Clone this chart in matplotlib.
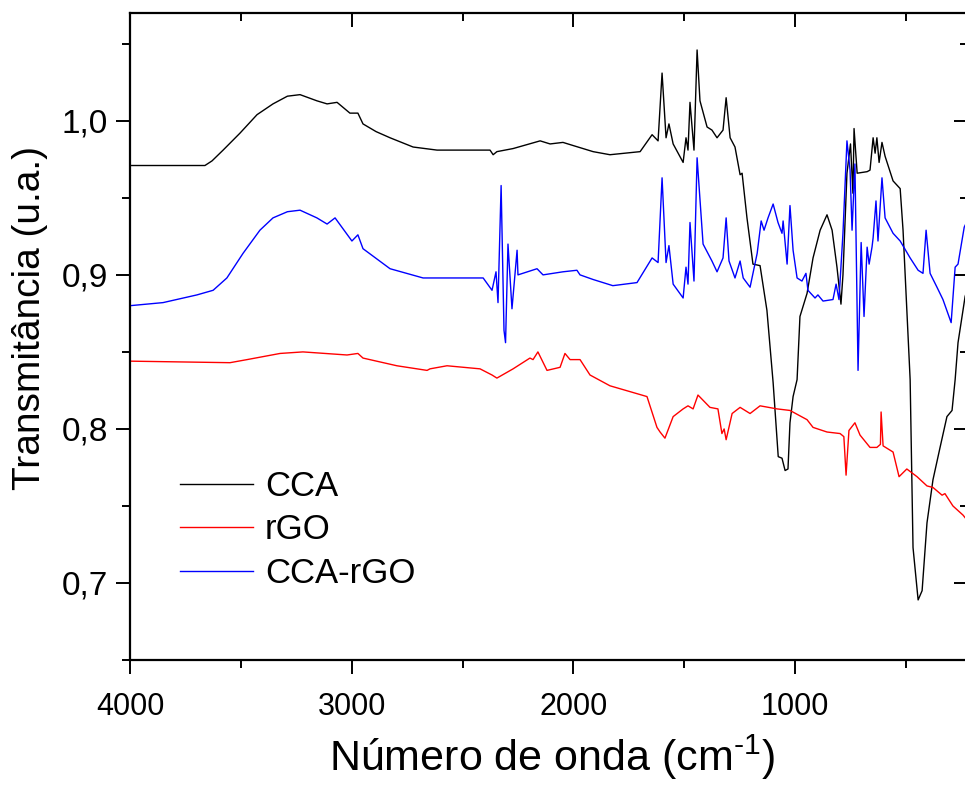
import numpy as np
import matplotlib
matplotlib.use('Agg')
import matplotlib.pyplot as plt
from matplotlib.ticker import MultipleLocator, FuncFormatter

# ---- data (wavenumber cm-1, transmittance) ----
cca_wn = [4000, 3662, 3630, 3580, 3504, 3427, 3355, 3290, 3233, 3157, 3111, 3066, 3008, 2972,
          2949, 2890, 2827, 2723, 2615, 2376, 2362, 2345, 2272, 2150, 2105, 2047, 2002, 1911,
          1835, 1699, 1645, 1618, 1600, 1582, 1569, 1550, 1505, 1492, 1483, 1474, 1456, 1442,
          1429, 1397, 1375, 1352, 1325, 1311, 1293, 1271, 1248, 1239, 1217, 1190, 1158,
          1127, 1099, 1076, 1059, 1045, 1032, 1023, 1009, 991, 978, 946, 919, 887, 856,
          833, 811, 793, 784, 766, 750, 739, 734, 720, 675, 662, 648, 639, 631, 621, 608,
          594, 558, 526, 513, 481, 468, 445, 427, 405, 378, 346, 315, 292, 278, 265, 233, 220]
cca_t = [0.971, 0.971, 0.974, 0.981, 0.992, 1.004, 1.011, 1.016, 1.017, 1.013, 1.011, 1.012,
         1.005, 1.005, 0.998, 0.993, 0.989, 0.983, 0.981, 0.981, 0.978, 0.980, 0.982, 0.987,
         0.985, 0.986, 0.984, 0.980, 0.978, 0.980, 0.991, 0.987, 1.031, 0.989, 0.998, 0.985,
         0.973, 0.989, 0.981, 1.012, 0.981, 1.046, 1.013, 0.996, 0.994, 0.989, 0.994, 1.015,
         0.989, 0.983, 0.965, 0.966, 0.937, 0.907, 0.906, 0.877, 0.830, 0.782, 0.781, 0.773,
         0.774, 0.804, 0.821, 0.832, 0.873, 0.888, 0.911, 0.929, 0.939, 0.929, 0.905, 0.881,
         0.900, 0.966, 0.985, 0.953, 0.995, 0.966, 0.967, 0.968, 0.989, 0.979, 0.989, 0.973,
         0.986, 0.977, 0.961, 0.956, 0.929, 0.832, 0.723, 0.689, 0.695, 0.739, 0.767, 0.788,
         0.808, 0.812, 0.832, 0.856, 0.886, 0.892]

rgo_wn = [4000, 3549, 3472, 3323, 3220, 3021, 2972, 2949, 2796, 2660, 2647, 2570, 2421,
          2367, 2345, 2272, 2196, 2182, 2160, 2119, 2060, 2038, 2015, 1970, 1925, 1835,
          1668, 1623, 1609, 1587, 1550, 1505, 1483, 1460, 1438, 1384, 1348, 1330, 1320,
          1311, 1284, 1248, 1203, 1158, 1081, 1023, 946, 919, 856, 797, 780, 770, 757,
          730, 707, 662, 631, 615, 612, 603, 558, 531, 496, 450, 405, 378, 337, 324, 288,
          242, 220]
rgo_t = [0.844, 0.843, 0.845, 0.849, 0.850, 0.848, 0.849, 0.846, 0.841, 0.838, 0.839, 0.841,
         0.839, 0.835, 0.833, 0.839, 0.846, 0.845, 0.850, 0.838, 0.840, 0.849, 0.845, 0.845,
         0.835, 0.828, 0.821, 0.801, 0.798, 0.794, 0.808, 0.813, 0.815, 0.813, 0.822, 0.814,
         0.813, 0.797, 0.800, 0.793, 0.810, 0.814, 0.810, 0.815, 0.813, 0.812, 0.806, 0.801,
         0.798, 0.797, 0.795, 0.770, 0.799, 0.804, 0.796, 0.788, 0.788, 0.790, 0.811, 0.789,
         0.785, 0.769, 0.774, 0.769, 0.763, 0.762, 0.757, 0.758, 0.750, 0.744, 0.740]

hyb_wn = [4000, 3851, 3698, 3625, 3563, 3490, 3414, 3355, 3290, 3233, 3157, 3111, 3075, 2999,
          2972, 2949, 2827, 2678, 2570, 2407, 2367, 2349, 2340, 2326, 2313, 2306, 2295,
          2277, 2254, 2250, 2164, 2137, 2047, 1984, 1970, 1911, 1822, 1713, 1645, 1618,
          1600, 1582, 1569, 1550, 1505, 1492, 1483, 1474, 1456, 1442, 1415, 1375, 1352,
          1325, 1311, 1298, 1271, 1248, 1234, 1203, 1171, 1153, 1140, 1122, 1099, 1077,
          1059, 1054, 1036, 1023, 1009, 991, 969, 951, 942, 910, 897, 874, 829, 815, 802,
          784, 766, 752, 743, 730, 716, 702, 689, 675, 666, 653, 648, 635, 626, 608, 594,
          558, 526, 481, 445, 423, 409, 391, 360, 333, 296, 278, 265, 237, 220]
hyb_t = [0.880, 0.882, 0.887, 0.890, 0.898, 0.914, 0.929, 0.937, 0.941, 0.942, 0.937, 0.933,
         0.937, 0.922, 0.926, 0.917, 0.904, 0.898, 0.898, 0.898, 0.890, 0.902, 0.882, 0.958,
         0.864, 0.856, 0.920, 0.878, 0.916, 0.900, 0.904, 0.900, 0.902, 0.903, 0.900, 0.897,
         0.893, 0.895, 0.911, 0.908, 0.963, 0.908, 0.919, 0.894, 0.885, 0.905, 0.894, 0.934,
         0.896, 0.976, 0.920, 0.909, 0.902, 0.911, 0.937, 0.909, 0.898, 0.909, 0.898, 0.892,
         0.914, 0.935, 0.929, 0.937, 0.946, 0.934, 0.927, 0.935, 0.907, 0.945, 0.916, 0.898,
         0.896, 0.901, 0.890, 0.885, 0.887, 0.883, 0.884, 0.894, 0.884, 0.927, 0.987, 0.968,
         0.929, 0.972, 0.838, 0.921, 0.873, 0.918, 0.907, 0.918, 0.924, 0.948, 0.922, 0.963,
         0.937, 0.927, 0.922, 0.911, 0.903, 0.901, 0.929, 0.901, 0.892, 0.884, 0.869, 0.905,
         0.907, 0.931, 0.936]

labels = ['CCA', 'rGO', 'CCA-rGO']
colors = ['black', 'red', 'blue']

plt.rcParams['font.family'] = ['Liberation Sans', 'DejaVu Sans']
plt.rcParams['mathtext.fontset'] = 'custom'
plt.rcParams['mathtext.rm'] = 'Liberation Sans'

fig = plt.figure(figsize=(9.65, 7.87), dpi=100)
ax = fig.add_axes([130/965, 1-660/787, 838/965, 647/787])

for wn, t, lab, c in zip([cca_wn, rgo_wn, hyb_wn], [cca_t, rgo_t, hyb_t], labels, colors):
    ax.plot(wn, t, color=c, lw=1.0, label=lab)

ax.set_xlim(4000, 220)
ax.set_ylim(0.65, 1.07)
ax.xaxis.set_major_locator(MultipleLocator(1000))
ax.xaxis.set_minor_locator(MultipleLocator(500))
ax.yaxis.set_major_locator(MultipleLocator(0.1))
ax.yaxis.set_minor_locator(MultipleLocator(0.05))
ax.yaxis.set_major_formatter(FuncFormatter(lambda v, p: f'{v:.1f}'.replace('.', ',')))

for s in ax.spines.values():
    s.set_linewidth(1.6)
ax.tick_params(axis='both', which='major', length=10, width=1.4)
ax.tick_params(axis='both', which='minor', length=6, width=1.4)
ax.tick_params(axis='x', which='both', top=True, direction='out', labelsize=22, pad=13)
ax.tick_params(axis='y', which='both', right=True, direction='out', labelsize=24, pad=6)
# top and right ticks point inward
for t in ax.xaxis.get_major_ticks() + ax.xaxis.get_minor_ticks():
    t.tick2line.set_marker(3)
for t in ax.yaxis.get_major_ticks() + ax.yaxis.get_minor_ticks():
    t.tick2line.set_marker(0)

ax.set_xlabel(r'Número de onda (cm$^{\text{-}1}$)', fontsize=31)
ax.set_ylabel('Transmitância (u.a.)', fontsize=28)
ax.xaxis.set_label_coords(0.504, -0.112)
ax.yaxis.set_label_coords(-0.098, 0.529)

ax.legend(loc='upper left', bbox_to_anchor=(180/965, 1-470/787), bbox_transform=fig.transFigure,
          frameon=False, fontsize=25, handlelength=2.1, handletextpad=0.35,
          labelspacing=0.3, borderpad=0, borderaxespad=0)

fig.savefig('out.png', dpi=100)
